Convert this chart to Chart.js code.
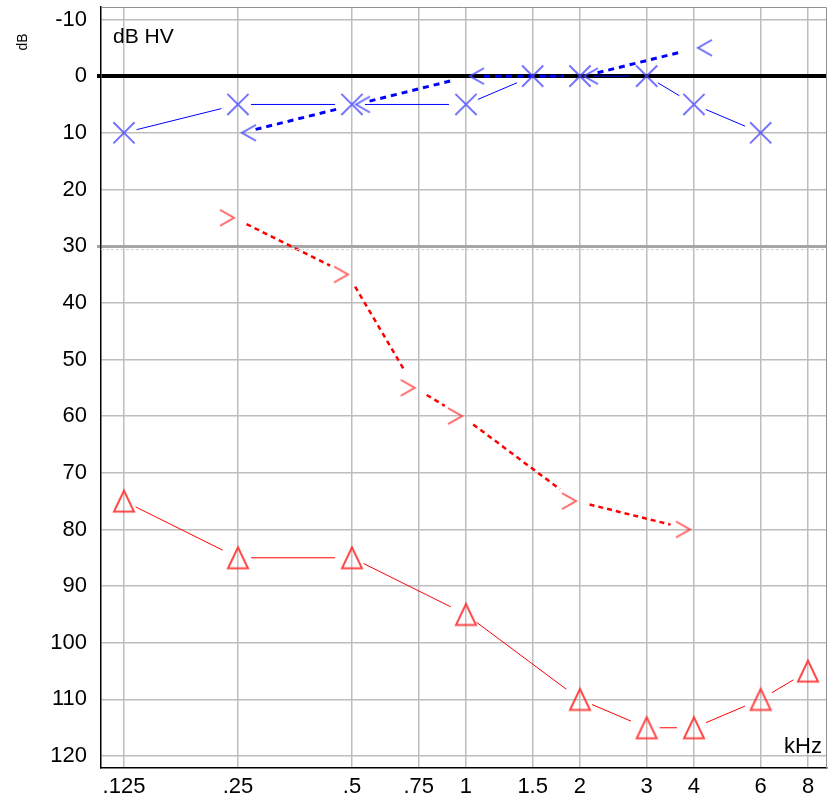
<!DOCTYPE html>
<html>
<head>
<meta charset="utf-8">
<script src="https://cdn.jsdelivr.net/npm/chart.js@4.4.0/dist/chart.umd.min.js"></script>
<style>
	html, body { margin:0; padding:0; background:#fff; }
	#wrap { width:828px; height:803px; }
</style>
</head>
<body>
<div id="wrap"><canvas id="myChart" width="828" height="803"></canvas></div>
<script>
// axis ticks
var freqTicks = [0.125, 0.25, 0.5, 0.75, 1, 1.5, 2, 3, 4, 6, 8];
var freqLabels = ['.125', '.25', '.5', '.75', '1', '1.5', '2', '3', '4', '6', '8'];
var dbTicks = [-10, 0, 10, 20, 30, 40, 50, 60, 70, 80, 90, 100, 110, 120];

// X : air conduction (blue)
var blueAirFreq = [0.125, 0.25, 0.5, 1, 1.5, 2, 3, 4, 6];
var blueAirDb = [10, 5, 5, 5, 0, 0, 0, 5, 10];
// < : bone conduction (blue)
var blueBoneFreq = [0.25, 0.5, 1, 2, 4];
var blueBoneDb = [10, 5, 0, 0, -5];
// triangle : air conduction (red)
var redAirFreq = [0.125, 0.25, 0.5, 1, 2, 3, 4, 6, 8];
var redAirDb = [75, 85, 85, 95, 110, 115, 115, 110, 105];
// > : bone conduction (red)
var redBoneFreq = [0.25, 0.5, 0.75, 1, 2, 4];
var redBoneDb = [25, 35, 55, 60, 75, 80];

var FONT = "'Liberation Sans', Arial, sans-serif";

function toPoints(freq, db) {
	var pts = new Array();
	freq.forEach(function(f, i) {
		pts.push({ x: f, y: db[i] });
	});
	return pts;
}

// little symbol pictures used as point styles
function makeChevron(dir, color) {
	var c = document.createElement('canvas');
	c.width = 48; c.height = 24;
	var g = c.getContext('2d');
	g.strokeStyle = color;
	g.lineWidth = 2;
	g.beginPath();
	if (dir == '<') {
		g.moveTo(42, 4); g.lineTo(28, 12); g.lineTo(42, 20);
	} else {
		g.moveTo(6, 4); g.lineTo(20, 12); g.lineTo(6, 20);
	}
	g.stroke();
	return c;
}

function makeTriangle(color) {
	var c = document.createElement('canvas');
	c.width = 26; c.height = 26;
	var g = c.getContext('2d');
	g.strokeStyle = color;
	g.lineWidth = 2;
	g.beginPath();
	g.moveTo(13, 2.5); g.lineTo(3, 23.5); g.lineTo(23, 23.5);
	g.closePath();
	g.stroke();
	return c;
}

// connecting lines with a gap round each symbol
var linkPlugin = {
	id: 'linkLines',
	beforeDatasetsDraw: function(chart) {
		var ctx = chart.ctx, area = chart.chartArea;
		ctx.save();
		ctx.beginPath();
		ctx.rect(area.left, area.top, area.right - area.left, area.bottom - area.top);
		ctx.clip();
		chart.data.datasets.forEach(function(ds, i) {
			var pts = chart.getDatasetMeta(i).data;
			ctx.strokeStyle = ds.linkColor;
			ctx.lineWidth = ds.linkWidth;
			ctx.setLineDash(ds.linkDash);
			for (var k = 1; k < pts.length; k++) {
				var x0 = pts[k-1].x + ds.linkShift, y0 = pts[k-1].y;
				var x1 = pts[k].x + ds.linkShift, y1 = pts[k].y;
				var len = Math.hypot(x1 - x0, y1 - y0);
				var ux = (x1 - x0) / len, uy = (y1 - y0) / len;
				ctx.beginPath();
				ctx.moveTo(x0 + ux * ds.linkGap[0], y0 + uy * ds.linkGap[0]);
				ctx.lineTo(x1 - ux * ds.linkGap[1], y1 - uy * ds.linkGap[1]);
				ctx.stroke();
			}
		});
		ctx.restore();
	}
};

// frame, extra line under 30 dB and the free texts
var decoPlugin = {
	id: 'deco',
	beforeDatasetsDraw: function(chart) {
		var ctx = chart.ctx, area = chart.chartArea;
		var y30 = chart.scales.y.getPixelForValue(30);
		ctx.save();
		ctx.strokeStyle = '#d0d0d0';
		ctx.lineWidth = 1;
		ctx.setLineDash([3, 2]);
		ctx.beginPath();
		ctx.moveTo(area.left, y30 + 3.5);
		ctx.lineTo(area.right, y30 + 3.5);
		ctx.stroke();
		ctx.setLineDash([]);
		ctx.strokeStyle = '#909090';
		ctx.beginPath();
		ctx.moveTo(area.left, area.top + 0.5);
		ctx.lineTo(area.right - 0.5, area.top + 0.5);
		ctx.lineTo(area.right - 0.5, area.bottom);
		ctx.stroke();
		ctx.restore();
	},
	afterDraw: function(chart) {
		var ctx = chart.ctx, area = chart.chartArea;
		ctx.save();
		ctx.fillStyle = '#000';
		ctx.font = '21px ' + FONT;
		ctx.textAlign = 'left';
		ctx.textBaseline = 'alphabetic';
		ctx.fillText('dB HV', area.left + 12, 43);
		ctx.font = '22px ' + FONT;
		ctx.textAlign = 'right';
		ctx.fillText('kHz', area.right - 5, 753);
		ctx.translate(27, 42);
		ctx.rotate(-Math.PI / 2);
		ctx.font = '14px ' + FONT;
		ctx.textAlign = 'center';
		ctx.fillText('dB', 0, 0);
		ctx.restore();
	}
};

var _datasets = [
	{
		data: toPoints(blueAirFreq, blueAirDb),
		pointStyle: 'crossRot',
		pointRadius: 15,
		borderColor: 'rgba(70,70,255,0.75)',
		borderWidth: 2,
		linkColor: '#0000ff', linkWidth: 1, linkDash: [], linkShift: 0, linkGap: [13, 17]
	},
	{
		data: toPoints(blueBoneFreq, blueBoneDb),
		pointStyle: makeChevron('<', 'rgba(70,70,255,0.8)'),
		linkColor: '#0000ff', linkWidth: 3, linkDash: [6, 5], linkShift: 4, linkGap: [14, 20]
	},
	{
		data: toPoints(redAirFreq, redAirDb),
		pointStyle: makeTriangle('rgba(255,40,40,0.85)'),
		linkColor: '#ff0000', linkWidth: 1, linkDash: [], linkShift: 0, linkGap: [13, 17]
	},
	{
		data: toPoints(redBoneFreq, redBoneDb),
		pointStyle: makeChevron('>', 'rgba(255,60,60,0.8)'),
		linkColor: '#ff0000', linkWidth: 2.5, linkDash: [5, 4], linkShift: -4, linkGap: [14, 20]
	}
];

function gridColor(v) {
	if (v == 0) return '#000000';
	if (v == 30) return '#a6a6a6';
	return '#bdbdbd';
}

var _config = {
	type: 'scatter',
	data: { datasets: _datasets },
	options: {
		responsive: false,
		animation: false,
		events: [],
		layout: {
			autoPadding: false,
			padding: { top: 7, right: 1, left: 0, bottom: 0 }
		},
		plugins: {
			legend: { display: false },
			tooltip: { enabled: false }
		},
		scales: {
			x: {
				type: 'logarithmic',
				min: 0.1087,
				max: 8.98,
				afterBuildTicks: function(scale) {
					scale.ticks = freqTicks.map(function(v) { return { value: v }; });
				},
				afterFit: function(scale) {
					scale.height = 35;
					scale.paddingLeft = 0;
					scale.paddingRight = 0;
				},
				grid: { color: '#bdbdbd', lineWidth: 1.5, drawTicks: false },
				border: { color: '#000', width: 1.5 },
				ticks: {
					autoSkip: false,
					maxRotation: 0,
					padding: 6,
					color: '#000',
					font: { family: FONT, size: 22 },
					callback: function(value) {
						var idx = freqTicks.indexOf(value);
						return idx >= 0 ? freqLabels[idx] : '';
					}
				}
			},
			y: {
				reverse: true,
				min: -12.2,
				max: 122.1,
				afterBuildTicks: function(scale) {
					scale.ticks = dbTicks.map(function(v) { return { value: v }; });
				},
				afterFit: function(scale) {
					scale.width = 101;
					scale.paddingTop = 0;
					scale.paddingBottom = 0;
				},
				grid: {
					color: function(c) { return gridColor(c.tick.value); },
					lineWidth: function(c) {
						if (c.tick.value == 0) return 4;
						if (c.tick.value == 30) return 3;
						return 1.5;
					},
					tickColor: function(c) {
						return (c.tick.value == 0 || c.tick.value == 30) ? gridColor(c.tick.value) : 'rgba(0,0,0,0)';
					},
					tickLength: 4
				},
				border: { color: '#000', width: 1.5 },
				ticks: {
					autoSkip: false,
					padding: 10,
					color: '#000',
					font: { family: FONT, size: 22 }
				}
			}
		}
	},
	plugins: [linkPlugin, decoPlugin]
};

var myChart = new Chart(document.getElementById('myChart'), _config);
</script>
</body>
</html>
